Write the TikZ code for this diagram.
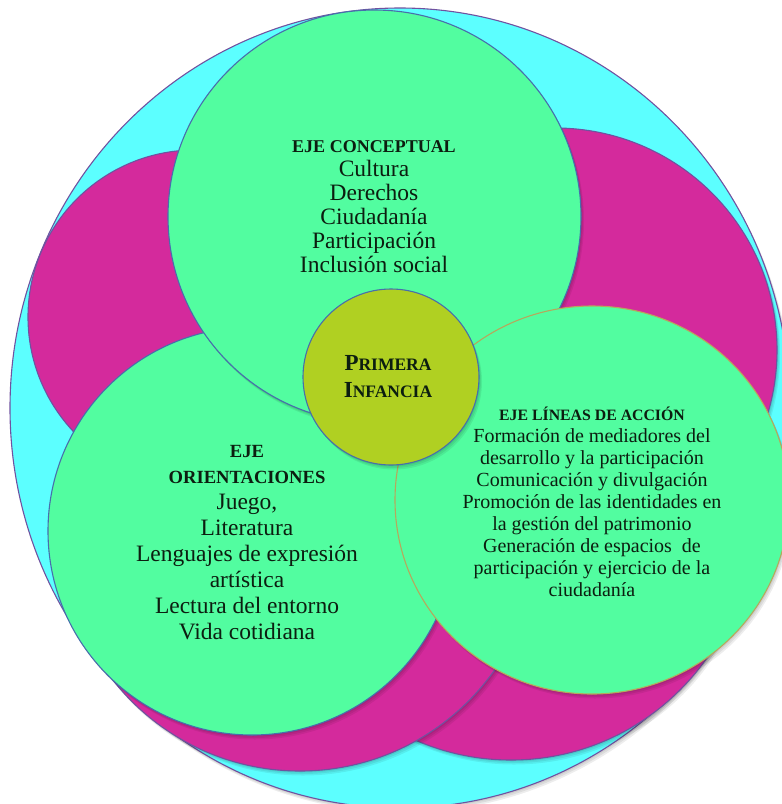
\documentclass[tikz,border=0pt]{standalone}
\usepackage{fontspec}
\setmainfont{Liberation Serif}
\definecolor{ringcyan}{RGB}{92,255,255}
\definecolor{ringmag}{RGB}{212,42,156}
\definecolor{axisgreen}{RGB}{82,253,160}
\definecolor{coreolive}{RGB}{176,208,34}
\definecolor{edgeviolet}{RGB}{112,82,160}
\definecolor{edgeblue}{RGB}{72,110,172}
\definecolor{edgetan}{RGB}{182,168,92}
\definecolor{inktext}{RGB}{12,30,16}
% soft shadow under a closed path
\newcommand{\softshade}[1]{%
  \foreach \dx/\dy in {1/1.5,2/3,3/4.5}{%
    \fill[black,opacity=0.07,shift={(\dx,\dy)}] #1;}}
\tikzset{
  disc/.style={line width=1.1pt},
  axistext/.style={text=inktext,align=center,inner sep=0pt},
}
\begin{document}
\begin{tikzpicture}[x=1pt,y=-1pt]
\useasboundingbox (0,0) rectangle (782,804);
\clip (0,0) rectangle (782,804);
% outer ring
\softshade{(400,408) ellipse [x radius=390, y radius=400]}
\draw[disc,fill=ringcyan,draw=edgeviolet] (400,408) ellipse [x radius=390, y radius=400];
% magenta discs behind the three axes
\softshade{(511,521) circle [radius=239]}
\draw[disc,fill=ringmag,draw=edgeviolet] (511,521) circle [radius=239];
\softshade{(300,533) circle [radius=238]}
\draw[disc,fill=ringmag,draw=edgeviolet] (300,533) circle [radius=238];
\softshade{(555,350) circle [radius=222]}
\draw[disc,fill=ringmag,draw=edgeviolet] (555,350) circle [radius=222];
\softshade{(195,317) circle [radius=167]}
\draw[disc,fill=ringmag,draw=edgeviolet] (195,317) circle [radius=167];
% green axes
\softshade{(252,531) circle [radius=204]}
\draw[disc,fill=axisgreen,draw=edgeblue] (252,531) circle [radius=204];
\softshade{(374.5,216.5) circle [radius=206.5]}
\draw[disc,fill=axisgreen,draw=edgeblue] (374.5,216.5) circle [radius=206.5];
\softshade{(592,500) ellipse [x radius=197, y radius=194]}
\draw[disc,fill=axisgreen,draw=edgetan] (592,500) ellipse [x radius=197, y radius=194];
% core
\softshade{(391,377) circle [radius=88]}
\draw[disc,fill=coreolive,draw=edgeblue] (391,377) circle [radius=88];

\node[axistext,font=\fontsize{23.5}{24}\selectfont] (conceptual) at (374,207)
  {{\bfseries\fontsize{18}{21}\selectfont EJE CONCEPTUAL}\\Cultura\\Derechos\\Ciudadanía\\Participación\\Inclusión social};
\node[axistext,font=\fontsize{23.5}{26}\selectfont] (orientaciones) at (247,543)
  {{\bfseries\fontsize{18.6}{28}\selectfont EJE}\\{\bfseries\fontsize{18.6}{28}\selectfont ORIENTACIONES}\\Juego,\\Literatura\\Lenguajes de expresión\\artística\\Lectura del entorno\\Vida cotidiana};
\node[axistext,font=\fontsize{20}{22}\selectfont] (acciones) at (592,502)
  {{\bfseries\fontsize{15.8}{22}\selectfont EJE LÍNEAS DE ACCIÓN}\\Formación de mediadores del\\desarrollo y la participación\\Comunicación y divulgación\\Promoción de las identidades en\\la gestión del patrimonio\\Generación de espacios~~de\\participación y ejercicio de la\\ciudadanía};
\node[axistext,font=\bfseries\fontsize{17.5}{27}\selectfont] (infancia) at (388,377)
  {{\fontsize{23}{27}\selectfont P}RIMERA\\{\fontsize{23}{27}\selectfont I}NFANCIA};
\end{tikzpicture}
\end{document}
